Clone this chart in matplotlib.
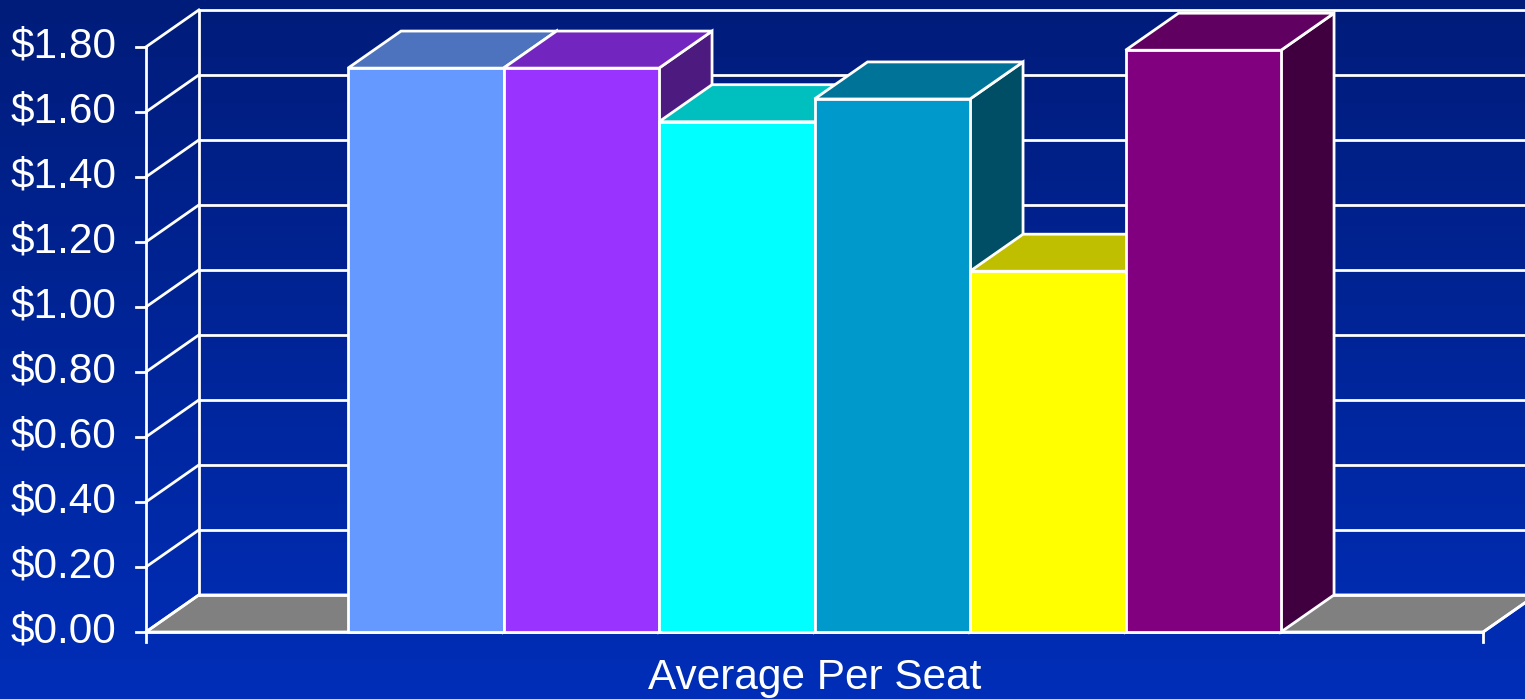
import matplotlib
matplotlib.use("Agg")
import matplotlib.pyplot as plt
from matplotlib.patches import Polygon
import numpy as np

# data
category = "Average Per Seat"
values = [1.735, 1.735, 1.57, 1.64, 1.11, 1.79]
front_colors = ["#6699FF", "#9933FF", "#00FFFF", "#0099CC", "#FFFF00", "#800080"]
top_colors = ["#4D73BF", "#7326BF", "#00BFBF", "#007399", "#BFBF00", "#600060"]
side_colors = ["#334D80", "#4D1A80", "#008080", "#004D66", "#808000", "#400040"]
ytick_vals = [0.0, 0.2, 0.4, 0.6, 0.8, 1.0, 1.2, 1.4, 1.6, 1.8]
ytick_labels = ["$0.00", "$0.20", "$0.40", "$0.60", "$0.80",
                "$1.00", "$1.20", "$1.40", "$1.60", "$1.80"]

plt.rcParams['font.family'] = ['Liberation Sans', 'DejaVu Sans']

fig = plt.figure(figsize=(15.25, 6.99), dpi=100)
ax = fig.add_axes([0, 0, 1, 1])
xmin, xmax = -2.238, 7.569
ymin, ymax = -0.2062, 1.9446
ax.set_xlim(xmin, xmax)
ax.set_ylim(ymin, ymax)
ax.axis("off")

# background gradient
top = np.array([0, 28, 122]) / 255
bot = np.array([0, 46, 184]) / 255
t = np.linspace(0, 1, 256)[:, None]
grad = (top * (1 - t) + bot * t)[:, None, :]
ax.imshow(grad, extent=[xmin, xmax, ymin, ymax], aspect="auto", zorder=0)

# 3d geometry (depth offset in data units)
dx, dy = 0.341, 0.114
x0, x1 = -1.30, 7.30
ymaxv = ytick_vals[-1]
lw = 2.0
wc = "white"

# floor
floor = Polygon([(x0, 0), (x1, 0), (x1 + dx, dy), (x0 + dx, dy)],
                closed=True, facecolor="#808080", edgecolor=wc, lw=lw, zorder=1)
ax.add_patch(floor)

# back wall gridlines and side wall lines
for v in ytick_vals:
    ax.plot([x0 + dx, xmax + 1], [v + dy, v + dy], color=wc, lw=lw, zorder=2)
    ax.plot([x0, x0 + dx], [v, v + dy], color=wc, lw=lw, zorder=2)
ax.plot([x0 + dx, x0 + dx], [dy, ymaxv + dy], color=wc, lw=lw, zorder=2)
ax.plot([x0, x0], [0, ymaxv], color=wc, lw=lw, zorder=2)
ax.plot([x0, x1], [0, 0], color=wc, lw=lw, zorder=2)
ax.plot([x1, x1 + dx], [0, dy], color=wc, lw=lw, zorder=2)

# ticks
for v in ytick_vals:
    ax.plot([x0 - 0.065, x0], [v, v], color=wc, lw=lw, zorder=2)
ax.plot([x0, x0], [0, -0.03], color=wc, lw=lw, zorder=2)
ax.plot([x1, x1], [0, -0.03], color=wc, lw=lw, zorder=2)

for v, lab in zip(ytick_vals, ytick_labels):
    ax.text(x0 - 0.19, v, lab, color="white", fontsize=30.5,
            ha="right", va="center", zorder=3)
ax.text((x0 + x1) / 2, -0.142, category, color="white", fontsize=30.5,
        ha="center", va="center", zorder=3)

# bars
for i, v in enumerate(values):
    z = 4 + i
    xl, xr = i, i + 1
    side = Polygon([(xr, 0), (xr + dx, dy), (xr + dx, v + dy), (xr, v)],
                   closed=True, facecolor=side_colors[i], edgecolor=wc, lw=lw, zorder=z)
    topf = Polygon([(xl, v), (xr, v), (xr + dx, v + dy), (xl + dx, v + dy)],
                   closed=True, facecolor=top_colors[i], edgecolor=wc, lw=lw, zorder=z)
    ax.add_patch(side)
    ax.add_patch(topf)
    ax.bar(xl, v, width=1, align="edge", color=front_colors[i],
           edgecolor=wc, lw=lw, zorder=z)

fig.savefig("out.png", dpi=100)
